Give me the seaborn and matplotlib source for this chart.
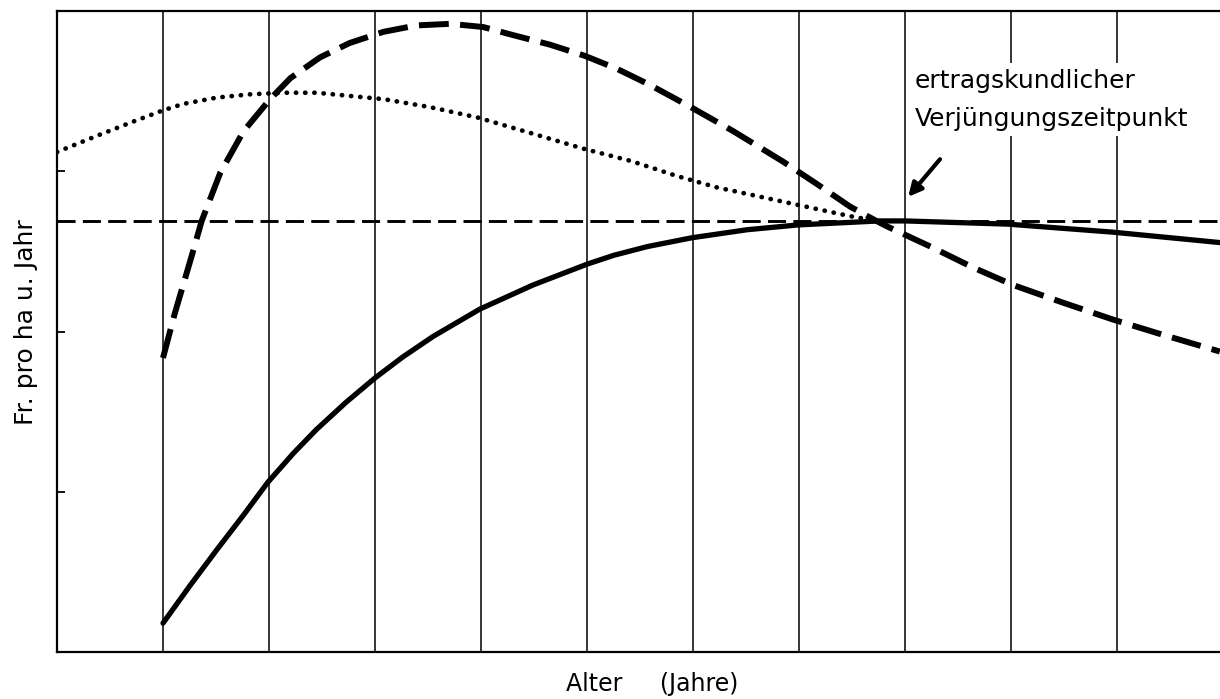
import matplotlib
matplotlib.use("Agg")
import matplotlib.pyplot as plt
import seaborn as sns
import pandas as pd

# ---- data ----
age_wert = [20.0, 21.1, 22.7, 23.65, 25.4, 27.6, 30.1, 32.0, 34.8, 37.6, 40.8, 43.9, 47.1,
            50.2, 53.0, 56.5, 59.8, 62.8, 65.9, 69.8, 73.8, 78.5, 81.7, 84.8, 87.3, 88.3,
            92.4, 96.4, 100.2, 104.9, 109.6, 114.3, 119.7]
val_wert = [1.835, 2.11, 2.47, 2.69, 2.99, 3.25, 3.45, 3.58, 3.71, 3.80, 3.87, 3.91, 3.92,
            3.90, 3.85, 3.79, 3.72, 3.64, 3.54, 3.40, 3.25, 3.06, 2.92, 2.78, 2.69, 2.656,
            2.53, 2.40, 2.29, 2.18, 2.075, 1.98, 1.875]

age_dot = [10.0, 14.1, 17.2, 20.0, 21.9, 25.1, 28.2, 31.3, 34.5, 37.6, 40.8, 45.2, 49.7,
           54.6, 59.7, 64.1, 68.5, 72.2, 78.5, 84.8, 87.3]
val_dot = [3.12, 3.23, 3.31, 3.38, 3.42, 3.46, 3.48, 3.49, 3.49, 3.47, 3.45, 3.40, 3.335,
           3.24, 3.14, 3.065, 2.97, 2.90, 2.81, 2.72, 2.69]

age_solid = [20.0, 22.5, 25.1, 27.6, 29.9, 32.3, 34.5, 37.3, 40.0, 42.6, 45.5, 49.9, 54.9,
             60.0, 62.5, 65.7, 69.9, 75.1, 79.9, 87.6, 90.0, 99.7, 109.6, 119.7]
val_solid = [0.18, 0.41, 0.64, 0.855, 1.06, 1.24, 1.39, 1.56, 1.71, 1.84, 1.97, 2.14, 2.29,
             2.42, 2.475, 2.53, 2.585, 2.635, 2.665, 2.69, 2.69, 2.67, 2.62, 2.555]

ref_level = 2.69
grid_ages = [20, 30, 40, 50, 60, 70, 80, 90, 100, 110]
y_ticks = [1, 2, 3]

annot_text = "ertragskundlicher\nVerjüngungszeitpunkt"
x_label = "Alter     (Jahre)"
y_label = "Fr. pro ha u. Jahr"

# ---- plotting ----
sns.set_style("white")
plt.rcParams["font.family"] = ["DejaVu Sans"]
plt.rcParams["text.color"] = "black"
plt.rcParams["axes.labelcolor"] = "black"

fig = plt.figure(figsize=(12.2, 6.99), dpi=100)
ax = fig.add_axes([57 / 1220, 47 / 699, 1166 / 1220, 641 / 699])

df_w = pd.DataFrame({"age": age_wert, "val": val_wert})
df_d = pd.DataFrame({"age": age_dot, "val": val_dot})
df_s = pd.DataFrame({"age": age_solid, "val": val_solid})

ax.axhline(ref_level, color="black", lw=2.1, linestyle=(0, (6.2, 2.5)), zorder=2)

sns.lineplot(data=df_s, x="age", y="val", ax=ax, color="black", lw=3.8,
             solid_capstyle="round", solid_joinstyle="round", zorder=4)
sns.lineplot(data=df_w, x="age", y="val", ax=ax, color="black", lw=4.3,
             linestyle=(0, (5.0, 1.9)), dash_joinstyle="round", zorder=4)
sns.lineplot(data=df_d, x="age", y="val", ax=ax, color="black", lw=3.4,
             linestyle=(0, (0.05, 1.9)), dash_capstyle="round", zorder=4)

ax.set_xlim(10, 120)
ax.set_ylim(0, 4)
ax.set_xticks(grid_ages)
ax.set_xticklabels([])
ax.grid(axis="x", color="black", lw=1.1)
ax.set_axisbelow(True)
ax.tick_params(axis="x", length=0)
ax.set_yticks(y_ticks)
ax.set_yticklabels([])
ax.tick_params(axis="y", direction="in", length=6, width=1.3, left=True, color="black")

for side in ["left", "bottom", "top"]:
    ax.spines[side].set_visible(True)
    ax.spines[side].set_color("black")
    ax.spines[side].set_linewidth(1.6)
ax.spines["right"].set_visible(False)

ax.set_xlabel(x_label, fontsize=17, color="black")
ax.xaxis.label.set_verticalalignment("center")
ax.xaxis.set_label_coords((652 - 57) / 1166, (652 - 684) / 641)
ax.set_ylabel(y_label, fontsize=18, color="black")
ax.yaxis.set_label_coords(-0.0165, 0.515)

ax.text(90.9, 3.64, annot_text, fontsize=18, color="black", ha="left", va="top",
        linespacing=1.75, zorder=5,
        bbox=dict(facecolor="white", edgecolor="none", pad=4))
ax.annotate("", xy=(90.3, 2.84), xytext=(93.3, 3.075),
            arrowprops=dict(arrowstyle="-|>,head_length=0.8,head_width=0.4",
                            color="black", lw=3.0, shrinkA=0, shrinkB=0),
            zorder=5)

fig.savefig("out.png", dpi=100)
